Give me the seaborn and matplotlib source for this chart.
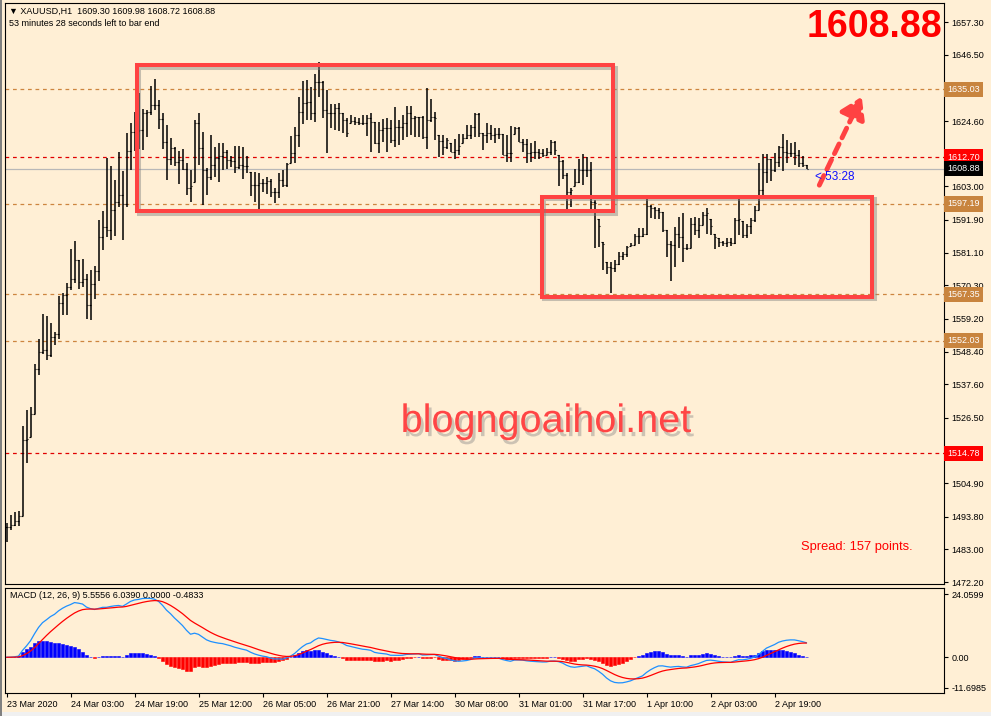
import numpy as np
import pandas as pd
import seaborn as sns
import matplotlib.pyplot as plt
import matplotlib.patheffects as pe
import matplotlib.transforms as mtransforms
from matplotlib.patches import Rectangle

# XAUUSD H1 bars (high / low / close)
highs = [
    1491.8, 1494.3, 1495.4, 1495.7, 1523.7, 1529.0, 1530.1, 1544.2, 1552.4, 1560.9,
    1560.1, 1558.0, 1554.9, 1566.7, 1567.6, 1571.1, 1582.4, 1584.9, 1578.8, 1578.9,
    1574.2, 1575.3, 1576.6, 1591.8, 1594.9, 1612.4, 1609.7, 1605.0, 1614.4, 1608.1,
    1620.7, 1623.8, 1627.6, 1633.7, 1628.7, 1628.2, 1636.1, 1638.6, 1631.7, 1627.3,
    1623.2, 1619.1, 1615.9, 1614.8, 1615.2, 1610.6, 1608.4, 1625.1, 1627.1, 1621.0,
    1609.2, 1619.9, 1615.9, 1617.2, 1617.2, 1615.0, 1613.0, 1616.3, 1616.5, 1616.1,
    1613.0, 1607.8, 1607.8, 1607.3, 1605.6, 1606.2, 1605.6, 1602.3, 1607.3, 1608.4,
    1610.6, 1619.6, 1622.7, 1632.6, 1637.9, 1638.3, 1635.9, 1640.3, 1644.2, 1637.9,
    1634.8, 1630.1, 1630.1, 1630.4, 1627.1, 1625.5, 1626.6, 1626.0, 1625.5, 1626.6,
    1626.6, 1627.4, 1624.4, 1624.4, 1625.2, 1625.5, 1624.9, 1629.3, 1624.9, 1626.6,
    1629.6, 1629.6, 1626.3, 1626.0, 1626.3, 1635.4, 1631.8, 1627.7, 1619.9, 1619.9,
    1619.1, 1617.5, 1618.8, 1620.2, 1620.2, 1623.2, 1623.2, 1627.4, 1627.4, 1620.8,
    1623.8, 1623.2, 1622.2, 1622.4, 1620.2, 1619.9, 1623.0, 1622.7, 1622.7, 1618.8,
    1618.8, 1617.5, 1617.9, 1615.3, 1615.5, 1615.8, 1618.3, 1617.9, 1613.3, 1611.7,
    1607.3, 1602.3, 1608.7, 1612.0, 1613.6, 1612.8, 1611.0, 1598.5, 1592.1, 1584.7,
    1578.1, 1578.1, 1578.8, 1581.4, 1581.4, 1583.3, 1584.3, 1587.4, 1589.1, 1589.1,
    1599.3, 1596.8, 1596.3, 1596.0, 1594.6, 1588.5, 1585.0, 1589.6, 1592.9, 1594.1,
    1583.9, 1592.4, 1592.9, 1592.4, 1594.6, 1596.0, 1592.1, 1587.2, 1585.8, 1585.0,
    1585.8, 1585.8, 1592.4, 1599.3, 1591.6, 1590.5, 1592.4, 1596.5, 1610.6, 1613.7,
    1613.7, 1611.9, 1613.9, 1616.3, 1620.3, 1618.3, 1617.4, 1617.7, 1615.0, 1613.0,
    1609.98,
]
lows = [
    1485.5, 1489.4, 1490.7, 1490.8, 1494.0, 1511.6, 1520.2, 1527.7, 1540.6, 1547.7,
    1545.7, 1546.6, 1550.5, 1552.7, 1560.6, 1560.4, 1568.7, 1571.1, 1569.2, 1569.8,
    1559.1, 1558.8, 1565.9, 1571.6, 1581.9, 1586.3, 1585.2, 1586.5, 1596.2, 1585.2,
    1596.2, 1608.3, 1614.7, 1615.5, 1615.0, 1619.4, 1626.5, 1628.2, 1621.8, 1615.2,
    1605.0, 1610.0, 1609.7, 1603.9, 1608.4, 1600.1, 1597.9, 1604.5, 1610.0, 1596.8,
    1600.1, 1605.0, 1606.2, 1604.5, 1608.4, 1608.9, 1609.5, 1607.3, 1608.9, 1605.6,
    1607.3, 1599.8, 1597.9, 1595.2, 1601.2, 1600.4, 1599.6, 1597.6, 1599.0, 1602.9,
    1602.9, 1610.6, 1610.6, 1615.9, 1623.6, 1624.9, 1624.9, 1624.4, 1632.6, 1625.5,
    1613.9, 1622.4, 1621.6, 1621.3, 1620.5, 1619.4, 1623.8, 1623.3, 1623.3, 1623.3,
    1619.7, 1614.4, 1616.9, 1613.9, 1617.7, 1614.2, 1617.5, 1616.1, 1616.6, 1618.3,
    1619.4, 1619.9, 1619.4, 1619.4, 1618.8, 1615.5, 1624.4, 1618.3, 1612.8, 1613.3,
    1615.3, 1614.4, 1612.0, 1613.3, 1617.5, 1618.8, 1618.8, 1619.4, 1619.4, 1615.0,
    1617.5, 1618.3, 1617.5, 1618.8, 1613.3, 1611.1, 1611.1, 1620.2, 1617.7, 1614.4,
    1610.6, 1611.1, 1612.2, 1612.2, 1612.8, 1613.3, 1613.3, 1613.3, 1603.2, 1605.6,
    1595.5, 1596.3, 1603.2, 1604.0, 1603.6, 1606.2, 1595.6, 1582.8, 1583.0, 1575.5,
    1574.0, 1567.6, 1574.8, 1577.0, 1578.8, 1579.5, 1583.3, 1583.6, 1583.9, 1586.3,
    1586.9, 1592.4, 1592.1, 1592.1, 1588.0, 1579.7, 1571.8, 1576.4, 1582.8, 1578.1,
    1581.9, 1582.5, 1586.9, 1586.1, 1590.2, 1587.4, 1586.9, 1582.2, 1583.0, 1583.3,
    1583.0, 1583.3, 1584.1, 1586.9, 1586.1, 1586.1, 1587.4, 1591.3, 1595.2, 1600.1,
    1604.0, 1604.9, 1607.8, 1609.5, 1608.2, 1610.6, 1612.8, 1610.0, 1609.5, 1609.5,
    1608.72,
]
closes = [
    1490.5, 1491.0, 1492.3, 1494.2, 1519.1, 1519.5, 1527.9, 1542.8, 1548.3, 1549.0,
    1547.2, 1553.2, 1554.3, 1564.6, 1567.0, 1569.8, 1572.3, 1578.6, 1571.4, 1572.5,
    1563.7, 1570.9, 1575.1, 1586.3, 1589.6, 1588.5, 1595.3, 1597.9, 1600.1, 1597.3,
    1614.7, 1621.0, 1621.4, 1621.6, 1627.1, 1627.7, 1629.8, 1629.8, 1625.4, 1617.7,
    1612.2, 1615.8, 1611.1, 1611.7, 1608.9, 1602.3, 1603.0, 1623.8, 1615.8, 1608.4,
    1606.2, 1610.0, 1612.4, 1613.0, 1614.4, 1611.7, 1611.5, 1609.3, 1610.0, 1609.7,
    1609.7, 1603.4, 1603.4, 1604.0, 1604.2, 1604.8, 1601.2, 1601.2, 1605.1, 1603.4,
    1610.4, 1614.1, 1619.9, 1627.7, 1630.4, 1631.0, 1627.3, 1637.6, 1637.6, 1628.2,
    1627.1, 1627.1, 1628.8, 1627.1, 1624.9, 1620.5, 1624.6, 1624.4, 1623.8, 1623.8,
    1625.5, 1624.4, 1617.2, 1621.6, 1622.4, 1622.4, 1618.3, 1622.7, 1622.7, 1623.8,
    1627.1, 1625.5, 1626.0, 1626.0, 1619.4, 1624.9, 1626.0, 1625.5, 1617.9, 1616.1,
    1618.3, 1614.4, 1615.0, 1616.4, 1619.1, 1620.0, 1622.7, 1626.8, 1620.8, 1620.0,
    1620.5, 1620.0, 1620.2, 1620.2, 1613.5, 1613.9, 1613.9, 1622.2, 1617.7, 1616.9,
    1613.9, 1614.2, 1614.2, 1613.9, 1613.5, 1614.4, 1617.7, 1615.0, 1611.4, 1606.9,
    1601.2, 1601.8, 1604.5, 1608.4, 1608.4, 1608.4, 1597.9, 1597.6, 1589.9, 1584.1,
    1576.4, 1575.9, 1577.5, 1579.9, 1580.8, 1583.0, 1583.6, 1586.6, 1586.6, 1587.4,
    1596.5, 1595.7, 1595.2, 1594.6, 1588.5, 1584.1, 1583.6, 1587.4, 1586.3, 1582.5,
    1582.5, 1590.5, 1588.5, 1590.2, 1593.5, 1594.1, 1589.9, 1586.3, 1584.7, 1584.4,
    1584.7, 1584.4, 1591.8, 1592.1, 1586.9, 1589.9, 1591.8, 1595.2, 1601.8, 1607.8,
    1611.9, 1608.4, 1611.1, 1615.9, 1614.4, 1614.1, 1613.9, 1613.3, 1610.6, 1610.0,
    1608.88,
]

date_ticks = [0, 16, 32, 48, 64, 80, 96, 112, 128, 144, 160, 176, 192]
date_labels = ["23 Mar 2020", "24 Mar 03:00", "24 Mar 19:00", "25 Mar 12:00",
               "26 Mar 05:00", "26 Mar 21:00", "27 Mar 14:00", "30 Mar 08:00",
               "31 Mar 01:00", "31 Mar 17:00", "1 Apr 10:00", "2 Apr 03:00",
               "2 Apr 19:00"]
price_ticks = [1657.30, 1646.50, 1624.60, 1603.00, 1591.90, 1581.10, 1570.30,
               1559.20, 1548.40, 1537.60, 1526.50, 1504.90, 1493.80, 1483.00, 1472.20]
orange_levels = [1635.03, 1597.19, 1567.35, 1552.03]
red_levels = [1612.70, 1514.78]
last_price = 1608.88
macd_ticks = [24.0599, 0.0, -11.6985]
macd_tick_labels = ["24.0599", "0.00", "-11.6985"]

BG = "#FFEFD5"
ORANGE = "#CD853F"
BOX_RED = "#FF4242"

sns.set_theme(style="white", rc={"axes.facecolor": BG, "figure.facecolor": BG,
                                 "axes.edgecolor": "black", "axes.linewidth": 0.8})
plt.rcParams["font.family"] = ["Liberation Sans", "DejaVu Sans"]

df = pd.DataFrame({"bar": np.arange(len(closes)), "high": highs, "low": lows, "close": closes})
df["open"] = np.clip(df["close"].shift(1).fillna(df["close"].iloc[0]), df["low"], df["high"])

# MACD (12, 26, 9)
ema12 = df["close"].ewm(span=12, adjust=False).mean()
ema26 = df["close"].ewm(span=26, adjust=False).mean()
df["macd"] = ema12 - ema26
df["signal"] = df["macd"].ewm(span=9, adjust=False).mean()
df["hist"] = df["macd"] - df["signal"]

fig = plt.figure(figsize=(9.91, 7.16), dpi=100)
ax = fig.add_axes([0.00535, 0.18394, 0.94753, 0.81229])
ax2 = fig.add_axes([0.00535, 0.03254, 0.94753, 0.14665], sharex=ax)

# --- price panel ---
for lvl in orange_levels:
    ax.axhline(lvl, color=ORANGE, ls=(0, (3, 3)), lw=0.9, zorder=1)
for lvl in red_levels:
    ax.axhline(lvl, color="#E00000", ls=(0, (3, 3)), lw=0.9, zorder=1)
ax.axhline(last_price, color="#B8B8B8", lw=0.9, zorder=1)

ax.vlines(df["bar"], df["low"], df["high"], color="black", lw=1.1, zorder=3)
ax.hlines(df["open"], df["bar"] - 0.4, df["bar"], color="black", lw=0.8, zorder=3)
ax.hlines(df["close"], df["bar"], df["bar"] + 0.4, color="black", lw=0.8, zorder=3)

ax.set_xlim(-0.3, 234.45)
ax.set_ylim(1471.5, 1663.7)
ax.yaxis.tick_right()
ax.set_yticks(price_ticks)
ax.set_yticklabels([f"{v:.2f}" for v in price_ticks])
ax.tick_params(axis="y", direction="out", length=3, width=0.8, pad=2,
               labelsize=6.5, colors="black", right=True)
ax.tick_params(axis="x", bottom=False, labelbottom=False)
ax.set_xlabel("")
ax.set_ylabel("")

trans = mtransforms.blended_transform_factory(ax.transAxes, ax.transData)
for lvl in orange_levels:
    ax.text(1.0035, lvl, f"{lvl:.2f}", transform=trans, ha="left", va="center",
            fontsize=6.5, color="white", clip_on=False, zorder=6,
            bbox=dict(boxstyle="square,pad=0.35", fc="#C8843E", ec="none"))
for lvl in red_levels:
    ax.text(1.0035, lvl, f"{lvl:.2f}", transform=trans, ha="left", va="center",
            fontsize=6.5, color="white", clip_on=False, zorder=6,
            bbox=dict(boxstyle="square,pad=0.35", fc="#FF0000", ec="none"))
ax.text(1.0035, last_price, f"{last_price:.2f}", transform=trans, ha="left", va="center",
        fontsize=6.5, color="white", clip_on=False, zorder=6,
        bbox=dict(boxstyle="square,pad=0.35", fc="black", ec="none"))

# drawn annotations
shadow = [pe.SimpleLineShadow(offset=(2, -2), shadow_color="gray", alpha=0.45), pe.Normal()]
for (x0, x1, y0, y1) in [(32.55, 151.7, 1594.93, 1643.09), (133.8, 216.4, 1566.6, 1599.6)]:
    ax.add_patch(Rectangle((x0, y0), x1 - x0, y1 - y0, fill=False, ec=BOX_RED,
                           lw=2.9, zorder=4, path_effects=shadow))

ax.annotate("", xy=(213.8, 1632.6), xytext=(203.2, 1603.4),
            arrowprops=dict(arrowstyle="-|>,head_length=0.7,head_width=0.45",
                            color=BOX_RED, lw=3.5, linestyle=(0, (2.2, 1.4)),
                            shrinkA=0, shrinkB=0, mutation_scale=18),
            zorder=5)
ax.text(202.1, 1606.2, "< 53:28", color="#1010FF", fontsize=8.5, ha="left", va="center", zorder=6)

ax.text(0.9975, 0.958, "1608.88", transform=ax.transAxes, ha="right", va="center",
        fontsize=27, fontweight="bold", color="#FF0000")
ax.text(0.004, 0.9857, "\u25BC XAUUSD,H1  1609.30 1609.98 1608.72 1608.88",
        transform=ax.transAxes, ha="left", va="center", fontsize=6.5, color="black")
ax.text(0.004, 0.9634, "53 minutes 28 seconds left to bar end",
        transform=ax.transAxes, ha="left", va="center", fontsize=6.5, color="black")
ax.text(0.5758, 0.2808, "blogngoaihoi.net", transform=ax.transAxes, ha="center", va="center",
        fontsize=28.5, color="#FF4545",
        path_effects=[pe.SimplePatchShadow(offset=(2, -3), shadow_rgbFace="gray", alpha=0.4),
                      pe.Normal()])
ax.text(0.907, 0.0641, "Spread: 157 points.", transform=ax.transAxes, ha="center", va="center",
        fontsize=9.3, color="#FF0000")

# --- MACD panel ---
pos = df["hist"] >= 0
ax2.bar(df.loc[pos, "bar"], df.loc[pos, "hist"], width=0.7, color="#0000FF",
        edgecolor="#0000FF", lw=0.4, zorder=2)
ax2.bar(df.loc[~pos, "bar"], df.loc[~pos, "hist"], width=0.7, color="#FF0000",
        edgecolor="#FF0000", lw=0.4, zorder=2)
sns.lineplot(x=df["bar"], y=df["macd"], color="#1E90FF", lw=0.9, ax=ax2, zorder=3)
sns.lineplot(x=df["bar"], y=df["signal"], color="#FF0000", lw=0.9, ax=ax2, zorder=3)

ax2.set_ylim(-13.5, 26.5)
ax2.yaxis.tick_right()
ax2.set_yticks(macd_ticks)
ax2.set_yticklabels(macd_tick_labels)
ax2.set_xticks(date_ticks)
ax2.set_xticklabels(date_labels, ha="left")
ax2.tick_params(axis="y", direction="out", length=3, width=0.8, pad=2,
                labelsize=6.5, colors="black", right=True)
ax2.tick_params(axis="x", direction="out", length=3, width=0.8, pad=2,
                labelsize=6.5, colors="black", bottom=True)
ax2.set_xlabel("")
ax2.set_ylabel("")
ax2.text(0.005, 0.921, "MACD (12, 26, 9) 5.5556 6.0390 0.0000 -0.4833",
         transform=ax2.transAxes, ha="left", va="center", fontsize=6.5, color="black", zorder=6)

for a in (ax, ax2):
    for s in a.spines.values():
        s.set_color("black")
        s.set_linewidth(0.8)

fig.patches.append(Rectangle((0, 0), 1, 4 / 716, transform=fig.transFigure,
                             fc="#F0F0F0", ec="none", zorder=0))
fig.patches.append(Rectangle((0, 0), 2 / 991, 1, transform=fig.transFigure,
                             fc="#808080", ec="none", zorder=0))

fig.savefig("out.png", dpi=100, facecolor=BG)
